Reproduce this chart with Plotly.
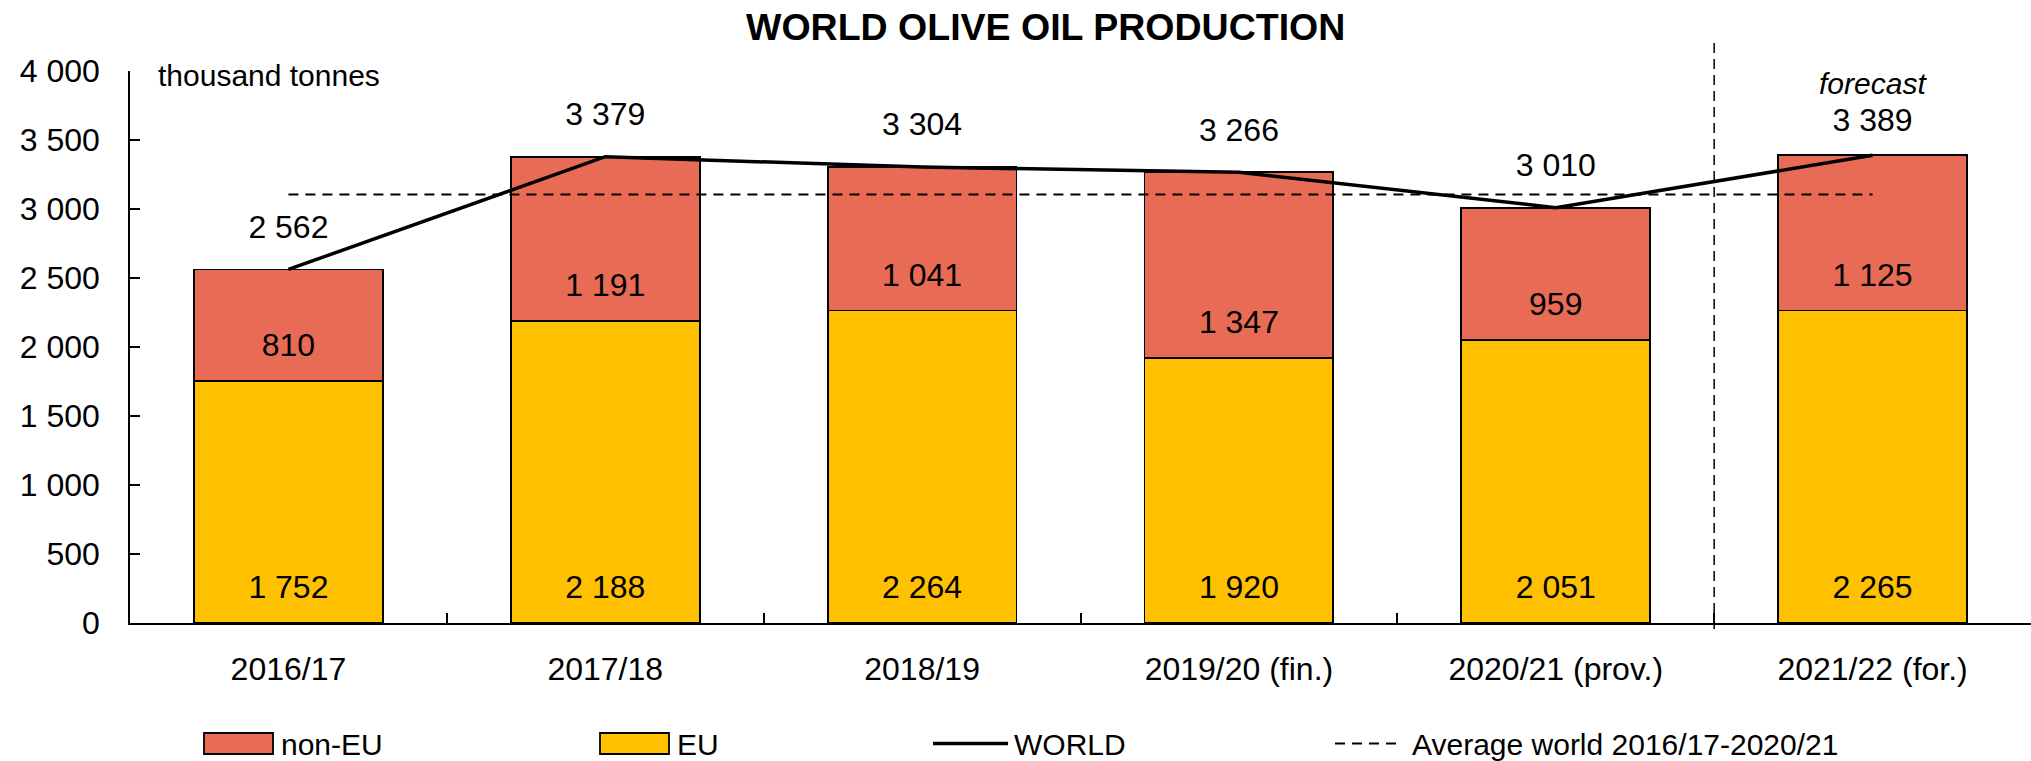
import plotly.graph_objects as go

# ---------------- data ----------------
categories = ["2016/17", "2017/18", "2018/19", "2019/20 (fin.)", "2020/21 (prov.)", "2021/22 (for.)"]
eu = [1752, 2188, 2264, 1920, 2051, 2265]
non_eu = [810, 1191, 1041, 1347, 959, 1125]
world = [2562, 3379, 3304, 3266, 3010, 3389]
avg_label = "Average world 2016/17-2020/21"
avg_world = sum(world[:5]) / 5  # average of 2016/17-2020/21

# ---------------- style ----------------
W, H = 2031, 761
ML, MR, MT, MB = 130, 0, 71, 138
PW, PH = W - ML - MR, H - MT - MB
FONT = "Liberation Sans, Arial, sans-serif"
C_EU = "#FFC000"
C_NONEU = "#E86C55"


def px_x(px):
    return (px - ML) / PW


def px_y(py):
    return (H - MB - py) / PH


def fmt(v):
    return f"{v:,}".replace(",", " ")


fig = go.Figure()

fig.add_trace(go.Bar(x=categories, y=eu, name="EU", marker=dict(color=C_EU, line=dict(color="black", width=1.8)),
                     hoverinfo="skip", showlegend=False))
fig.add_trace(go.Bar(x=categories, y=non_eu, name="non-EU",
                     marker=dict(color=C_NONEU, line=dict(color="black", width=1.8)),
                     hoverinfo="skip", showlegend=False))

# average line
fig.add_trace(go.Scatter(x=[categories[0], categories[-1]], y=[avg_world, avg_world], mode="lines",
                         line=dict(color="black", width=2, dash="10px,7px"), hoverinfo="skip", showlegend=False))
# world line
fig.add_trace(go.Scatter(x=categories, y=world, mode="lines", line=dict(color="black", width=3.5),
                         hoverinfo="skip", showlegend=False))

LABEL_OFF = 238
fig.add_trace(go.Scatter(x=categories, y=[LABEL_OFF for _ in eu], mode="text",
                         text=[fmt(v) for v in eu], textposition="middle center",
                         textfont=dict(size=32, color="black", family=FONT), hoverinfo="skip", showlegend=False))
fig.add_trace(go.Scatter(x=categories, y=[e + LABEL_OFF for e in eu], mode="text",
                         text=[fmt(v) for v in non_eu], textposition="middle center",
                         textfont=dict(size=32, color="black", family=FONT), hoverinfo="skip", showlegend=False))
tot_off = [288, 288, 288, 288, 288, 231]
fig.add_trace(go.Scatter(x=categories, y=[w + o for w, o in zip(world, tot_off)], mode="text",
                         text=[fmt(v) for v in world], textposition="middle center",
                         textfont=dict(size=32, color="black", family=FONT), hoverinfo="skip", showlegend=False,
                         cliponaxis=False))

shapes = [
    dict(type="line", xref="x", yref="paper", x0=4.5, x1=4.5, y0=px_y(629), y1=px_y(43),
         line=dict(color="black", width=1.5, dash="10px,6px")),
]

annotations = [
    dict(text="<b>WORLD OLIVE OIL PRODUCTION</b>", xref="paper", yref="paper", x=px_x(1045), y=px_y(27),
         xanchor="center", yanchor="middle", showarrow=False, font=dict(size=37.5, family=FONT, color="black")),
    dict(text="thousand tonnes", xref="paper", yref="paper", x=px_x(156), y=px_y(75),
         xanchor="left", yanchor="middle", showarrow=False, font=dict(size=30, family=FONT, color="black")),
    dict(text="<i>forecast</i>", xref="x", yref="paper", x=categories[-1], y=px_y(83),
         xanchor="center", yanchor="middle", showarrow=False, font=dict(size=30, family=FONT, color="black")),
]

# manual legend
LY = 743.5
legend_items = [
    ("rect", C_NONEU, 204, 273, "non-EU", 279),
    ("rect", C_EU, 600, 669, "EU", 675),
    ("line", None, 933, 1008, "WORLD", 1012),
    ("dash", None, 1335, 1400, avg_label, 1410),
]
for kind, col, x0, x1, label, tx in legend_items:
    if kind == "rect":
        shapes.append(dict(type="rect", xref="paper", yref="paper", x0=px_x(x0), x1=px_x(x1),
                           y0=px_y(LY + 10.5), y1=px_y(LY - 10.5), fillcolor=col,
                           line=dict(color="black", width=1.8)))
    elif kind == "line":
        shapes.append(dict(type="line", xref="paper", yref="paper", x0=px_x(x0), x1=px_x(x1),
                           y0=px_y(LY), y1=px_y(LY), line=dict(color="black", width=3.5)))
    else:
        shapes.append(dict(type="line", xref="paper", yref="paper", x0=px_x(x0), x1=px_x(x1),
                           y0=px_y(LY), y1=px_y(LY), line=dict(color="black", width=2, dash="10px,7px")))
    annotations.append(dict(text=label, xref="paper", yref="paper", x=px_x(tx), y=px_y(LY + 1),
                            xanchor="left", yanchor="middle", showarrow=False,
                            font=dict(size=30, family=FONT, color="black")))

fig.update_layout(
    width=W, height=H, autosize=False,
    margin=dict(l=ML, r=MR, t=MT, b=MB, pad=0),
    paper_bgcolor="white", plot_bgcolor="white",
    font=dict(family=FONT, size=32, color="black"),
    barmode="stack", bargap=0.404,
    separators=". ",
    shapes=shapes, annotations=annotations,
    showlegend=False,
    xaxis=dict(type="category", range=[-0.5, 5.5], tickson="boundaries", ticks="inside", ticklen=10,
               tickwidth=1.5, tickcolor="black", showline=True, linecolor="black", linewidth=2,
               showgrid=False, zeroline=False, ticklabelstandoff=17, tickfont=dict(size=32)),
    yaxis=dict(range=[0, 4000], dtick=500, tick0=0, ticks="inside", ticklen=10, tickwidth=1.5,
               tickcolor="black", showline=True, linecolor="black", linewidth=1.5, showgrid=False,
               zeroline=False, tickformat=",d", ticklabelstandoff=22, tickfont=dict(size=32)),
)

fig.write_html("out.html", config={"displayModeBar": False},
               post_script="document.body.style.margin='0';document.body.style.overflow='hidden';")
